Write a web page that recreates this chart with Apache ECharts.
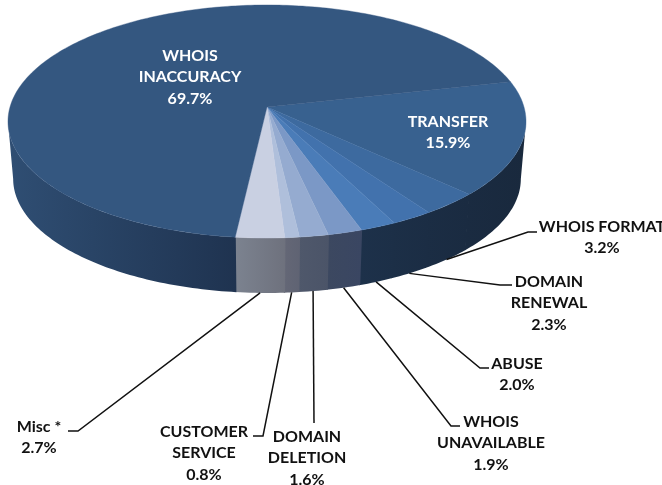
<!DOCTYPE html>
<html>
<head>
<meta charset="utf-8">
<style>
  html, body { margin: 0; padding: 0; background: #fff; }
  #chart { width: 662px; height: 485px; overflow: hidden; }
</style>
<script src="https://cdn.jsdelivr.net/npm/echarts@6/dist/echarts.min.js"></script>
</head>
<body>
<div id="chart"></div>
<script>
// clockwise from the first slice
const categories = ["TRANSFER", "WHOIS FORMAT", "DOMAIN\nRENEWAL", "ABUSE", "WHOIS\nUNAVAILABLE", "DOMAIN\nDELETION", "CUSTOMER\nSERVICE", "Misc *", "WHOIS\nINACCURACY"];
const values = [15.9, 3.2, 2.3, 2.0, 1.9, 1.6, 0.8, 2.7, 69.7];

const topColors = ["#38618f", "#3d6a9f", "#4272ad", "#4a7cb8", "#7b98c6", "#95abd0", "#afbfdb", "#c9d0e2", "#345780"];
const wallColors = [
  ["#1a2b41", "#19293d"], ["#1b2d44", "#1a2b41"], ["#1c2f47", "#1b2d44"], ["#1d314a", "#1c2f47"],
  ["#3c4860", "#3a4662"], ["#4f586b", "#4b5468"], ["#646776", "#5f6373"], ["#7c8390", "#6e717d"], ["#2f4e73", "#1f3350"]
];

// label centre x, first line y, text colour
const labelPos = [[448, 111, "#fff"], [602, 216, "#111"], [549, 271, "#111"], [517, 353, "#111"], [491, 411, "#111"], [307, 426, "#111"], [204, 421, "#111"], [39, 416, "#111"], [190, 45, "#fff"]];
// where each leader line bends and ends, null for labels inside the pie
const leaderPos = [null, [[528, 232], [537, 232]], [[500, 285], [512, 285]], [[480, 368], [489, 368]], [[451, 426], [460, 426]], [[314, 423]], [[263, 436], [253, 436]], [[78, 431], [68, 431]], null];

// pie geometry: a circle seen in perspective
const cx = 267, cy = 107, rx = 257, ry = 114.7, persp = 0.1245;
const wallDepth = 57.6, wallScale = 0.98;
const firstAngle = -13.1;
// the rim turns away from the viewer past these angles
const wallFrom = 7.2, wallTo = 172.8;
// walls overlap a little so no seam shows between them
const wallOverlap = 0.12;

const total = values.reduce((s, v) => s + v, 0);
const startAngles = [];
values.reduce((acc, v, i) => { startAngles[i] = firstAngle + acc / total * 360; return acc + v; }, 0);

function rimPoint(deg, bottom) {
  const a = deg * Math.PI / 180;
  const w = 1 - persp * Math.sin(a);
  const s = bottom ? wallScale : 1;
  return [cx + s * rx * Math.cos(a) / w, cy + (bottom ? wallDepth : 0) + s * ry * Math.sin(a) / w];
}

function arcPoints(from, to, bottom) {
  const n = Math.max(2, Math.ceil(Math.abs(to - from)));
  const pts = [];
  for (let i = 0; i <= n; i++) pts.push(rimPoint(from + (to - from) * i / n, bottom));
  return pts;
}

function sliceRange(i) {
  return [startAngles[i], startAngles[i] + values[i] / total * 360];
}

function renderWall(params) {
  const i = params.dataIndex;
  const r = sliceRange(i);
  const from = Math.max(r[0] - wallOverlap, wallFrom), to = Math.min(r[1] + wallOverlap, wallTo);
  if (to <= from) return { type: "group", children: [] };
  const pts = arcPoints(from, to, false).concat(arcPoints(to, from, true));
  const fill = new echarts.graphic.LinearGradient(0, 0, 1, 0, [
    { offset: 0, color: wallColors[i][0] },
    { offset: 1, color: wallColors[i][1] }
  ]);
  return { type: "polygon", shape: { points: pts }, style: { fill: fill } };
}

function renderTop(params) {
  const i = params.dataIndex;
  const r = sliceRange(i);
  const pts = [[cx, cy]].concat(arcPoints(r[0], r[1], false));
  return { type: "polygon", shape: { points: pts }, style: { fill: topColors[i], stroke: topColors[i], lineWidth: 0.4 } };
}

function renderLabel(params) {
  const i = params.dataIndex;
  const p = labelPos[i];
  const children = [{
    type: "text",
    style: {
      text: categories[i] + "\n" + values[i].toFixed(1) + "%",
      x: p[0], y: p[1],
      align: "center", verticalAlign: "top",
      fontFamily: "Lato", fontWeight: 700, fontSize: 16, lineHeight: 21.5,
      fill: p[2]
    }
  }];
  if (leaderPos[i]) {
    const r = sliceRange(i);
    const start = rimPoint((r[0] + r[1]) / 2, true);
    children.push({
      type: "polyline",
      shape: { points: [start].concat(leaderPos[i]) },
      style: { fill: "none", stroke: "#111", lineWidth: 1.5 }
    });
  }
  return { type: "group", children: children };
}

const myChart = echarts.init(document.getElementById("chart"));
const pieData = values.map((v, i) => ({ name: categories[i], value: v }));
const option = {
  animation: false,
  series: [
    { type: "custom", coordinateSystem: "none", renderItem: renderWall, data: pieData, silent: true, z: 1 },
    { type: "custom", coordinateSystem: "none", renderItem: renderTop, data: pieData, silent: true, z: 2 },
    { type: "custom", coordinateSystem: "none", renderItem: renderLabel, data: pieData, silent: true, z: 3 }
  ]
};
myChart.setOption(option);
</script>
</body>
</html>
